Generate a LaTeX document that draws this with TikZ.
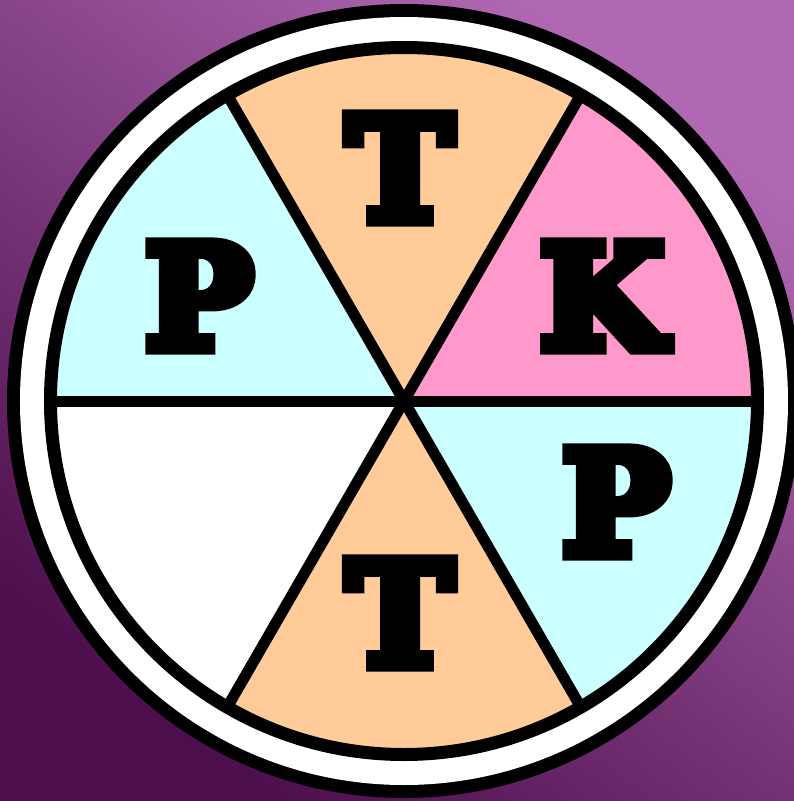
\documentclass[tikz,border=0pt]{standalone}
\usepackage{fontspec}
\newfontfamily\letterfont[FakeBold=9]{DejaVu Serif Bold}
\definecolor{peach}{HTML}{FFCC99}
\definecolor{rose}{HTML}{FF99CC}
\definecolor{ice}{HTML}{CCFFFF}
\definecolor{plumdark}{HTML}{4C0E4C}
\definecolor{plummid}{HTML}{9E54A2}
\definecolor{plumlight}{HTML}{B068B2}
\begin{document}
\begin{tikzpicture}[x=1pt,y=1pt,letter/.style={inner sep=0pt,font=\letterfont\fontsize{143}{150}\selectfont},spoke/.style={line width=11pt,line cap=butt}]
\useasboundingbox (-404,-400) rectangle (390,401);
\shade[top color=plumlight,middle color=plummid,bottom color=plumdark,shading angle=-37] (-404,-400) rectangle (390,401);
% rings
\fill[black] (0,0) circle (397pt);
\fill[white] (0,0) circle (384pt);
% sectors
\fill[rose] (0,0) -- (0:353pt) arc[start angle=0,end angle=60,radius=353pt] -- cycle;
\fill[peach] (0,0) -- (60:353pt) arc[start angle=60,end angle=120,radius=353pt] -- cycle;
\fill[ice] (0,0) -- (120:353pt) arc[start angle=120,end angle=180,radius=353pt] -- cycle;
\fill[white] (0,0) -- (180:353pt) arc[start angle=180,end angle=240,radius=353pt] -- cycle;
\fill[peach] (0,0) -- (240:353pt) arc[start angle=240,end angle=300,radius=353pt] -- cycle;
\fill[ice] (0,0) -- (300:353pt) arc[start angle=300,end angle=360,radius=353pt] -- cycle;
\draw[line width=13pt] (0,0) circle (353.5pt);
\coordinate (c) at (0,0);
\draw[spoke] (0:354pt) -- (180:354pt);
\draw[spoke] (60:354pt) -- (240:354pt);
\draw[spoke] (120:354pt) -- (300:354pt);
% letters
\node[letter] (tup) at (-4,233) {T};
\node[letter] (k) at (198,105) {K};
\node[letter] (pleft) at (-205,105) {P};
\node[letter] (pright) at (212,-101) {P};
\node[letter] (tdown) at (-4,-212) {T};
\end{tikzpicture}
\end{document}
